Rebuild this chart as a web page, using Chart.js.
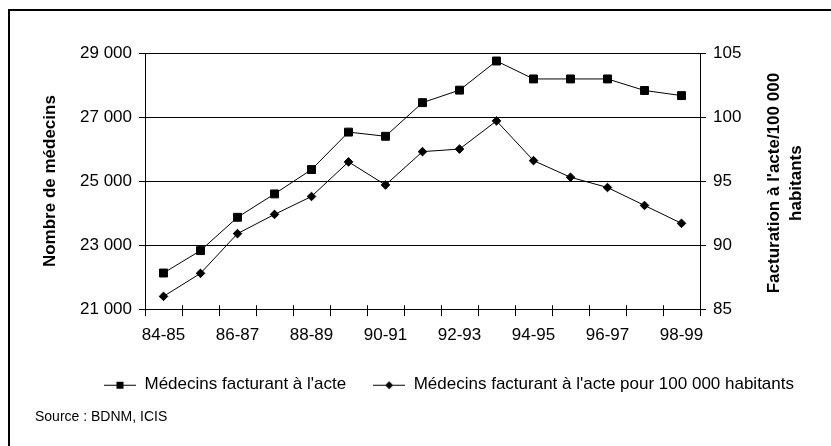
<!DOCTYPE html>
<html>
<head>
<meta charset="utf-8">
<script src="https://cdn.jsdelivr.net/npm/chart.js@4/dist/chart.umd.min.js"></script>
<style>
  html, body { margin: 0; padding: 0; background: #fff; overflow: hidden; }
  #wrap { position: relative; width: 831px; height: 446px; }
  #frame { position: absolute; left: 8px; top: 9px; width: 900px; height: 500px;
           border-left: 2px solid #000; border-top: 2px solid #000; pointer-events: none; }
  canvas { position: absolute; left: 0; top: 0; }
</style>
</head>
<body>
<div id="wrap">
  <canvas id="chart" width="831" height="446"></canvas>
  <div id="frame"></div>
</div>
<script>
// Fiscal years
const years = ['84-85', '85-86', '86-87', '87-88', '88-89', '89-90', '90-91', '91-92',
               '92-93', '93-94', '94-95', '95-96', '96-97', '97-98', '98-99'];
// Fee-for-service physicians (left axis)
const medecins = [22130, 22830, 23870, 24600, 25360, 26530, 26400, 27450,
                  27840, 28750, 28190, 28190, 28190, 27830, 27670];
// Fee-for-service physicians per 100 000 inhabitants (right axis)
const parHabitants = [86.0, 87.8, 90.9, 92.4, 93.8, 96.5, 94.7, 97.3,
                      97.5, 99.7, 96.6, 95.3, 94.5, 93.1, 91.7];
const leftTicks = [21000, 23000, 25000, 27000, 29000];
const rightTicks = [85, 90, 95, 100, 105];
const seriesLabels = ["Médecins facturant à l'acte",
                      "Médecins facturant à l'acte pour 100 000 habitants"];
const leftTitle = 'Nombre de médecins';
const rightTitleLines = ["Facturation à l'acte/100 000", 'habitants'];
const sourceText = 'Source : BDNM, ICIS';

const FONT = '"Liberation Sans", Arial, Helvetica, sans-serif';
Chart.defaults.font.family = FONT;
Chart.defaults.color = '#000';

const fmtThousands = v => String(v).replace(/\B(?=(\d{3})+(?!\d))/g, ' ');

// Legend swatches: a short line with the series marker in the middle
function legendIcon(kind) {
  const c = document.createElement('canvas');
  c.width = 32; c.height = 12;
  const g = c.getContext('2d');
  g.strokeStyle = '#000'; g.lineWidth = 1;
  g.beginPath(); g.moveTo(0, 6.5); g.lineTo(32, 6.5); g.stroke();
  g.fillStyle = '#000';
  if (kind === 'square') {
    g.fillRect(12.5, 3, 7, 7);
  } else {
    g.beginPath();
    g.moveTo(16, 2.5); g.lineTo(20, 6.5); g.lineTo(16, 10.5); g.lineTo(12, 6.5);
    g.closePath(); g.fill();
  }
  return c;
}
const legendIcons = [legendIcon('square'), legendIcon('diamond')];

// Nudges the legend block sideways after layout
const legendShift = {
  id: 'legendShift',
  afterLayout(chart) {
    const l = chart.legend;
    if (l) { l.left += 16; l.right += 16; }
  }
};

// Category tick marks cross the x axis: add the short part above the line
const crossTicks = {
  id: 'crossTicks',
  afterDraw(chart) {
    const sx = chart.scales.x, ctx = chart.ctx;
    const n = chart.data.labels.length;
    const half = (sx.getPixelForValue(1) - sx.getPixelForValue(0)) / 2;
    const y = chart.chartArea.bottom;
    ctx.save();
    ctx.strokeStyle = '#000';
    ctx.lineWidth = 1;
    ctx.beginPath();
    for (let i = 0; i <= n; i++) {
      const x = Math.round(sx.getPixelForValue(Math.min(i, n - 1)) + (i < n ? -half : half)) + 0.5;
      ctx.moveTo(x, y - 4);
      ctx.lineTo(x, y);
    }
    ctx.stroke();
    ctx.restore();
  }
};

// Right-hand axis title, read bottom to top
const rightTitle = {
  id: 'rightTitle',
  afterDraw(chart) {
    const a = chart.chartArea, ctx = chart.ctx;
    ctx.save();
    ctx.font = 'bold 17px ' + FONT;
    ctx.fillStyle = '#000';
    ctx.textAlign = 'center';
    ctx.textBaseline = 'middle';
    ctx.translate(a.right + 74, (a.top + a.bottom) / 2 + 2);
    ctx.rotate(-Math.PI / 2);
    rightTitleLines.forEach((t, i) => ctx.fillText(t, 0, i * 22));
    ctx.restore();
  }
};

new Chart(document.getElementById('chart'), {
  type: 'line',
  data: {
    labels: years,
    datasets: [
      {
        label: seriesLabels[0],
        data: medecins,
        yAxisID: 'y',
        borderColor: '#000',
        borderWidth: 1,
        pointStyle: 'rect',
        pointRadius: 5.6,
        pointBackgroundColor: '#000',
        pointBorderColor: '#000',
        pointBorderWidth: 1,
        tension: 0
      },
      {
        label: seriesLabels[1],
        data: parHabitants,
        yAxisID: 'y1',
        borderColor: '#000',
        borderWidth: 1,
        pointStyle: 'rectRot',
        pointRadius: 4.3,
        pointBackgroundColor: '#000',
        pointBorderColor: '#000',
        pointBorderWidth: 1,
        tension: 0
      }
    ]
  },
  options: {
    responsive: false,
    animation: false,
    events: [],
    layout: { padding: { left: 35, top: 53, right: 0, bottom: 0 } },
    scales: {
      x: {
        type: 'category',
        offset: true,
        grid: { offset: true, drawOnChartArea: false, drawTicks: true, tickLength: 7, color: '#000', lineWidth: 1 },
        border: { color: '#000', width: 1 },
        ticks: {
          autoSkip: false, maxRotation: 0, padding: 9,
          font: { size: 17 },
          callback: (v, i) => (i % 2 === 0 ? years[i] : '')
        },
        afterFit: s => { s.height = 40; }
      },
      y: {
        position: 'left',
        min: leftTicks[0],
        max: leftTicks[leftTicks.length - 1],
        afterBuildTicks: s => { s.ticks = leftTicks.map(v => ({ value: v })); },
        grid: { color: '#000', lineWidth: 1, tickLength: 6 },
        border: { color: '#000', width: 1 },
        ticks: { padding: 7, font: { size: 17 }, callback: v => fmtThousands(v) },
        title: { display: true, text: leftTitle, font: { size: 17, weight: 'bold' }, padding: { top: 5, bottom: 0 } },
        afterFit: s => { s.width = 110; }
      },
      y1: {
        position: 'right',
        min: rightTicks[0],
        max: rightTicks[rightTicks.length - 1],
        afterBuildTicks: s => { s.ticks = rightTicks.map(v => ({ value: v })); },
        grid: { drawOnChartArea: false, color: '#000', lineWidth: 1, tickLength: 6 },
        border: { color: '#000', width: 1 },
        ticks: { padding: 7, font: { size: 17 }, callback: v => String(v) },
        afterFit: s => { s.width = 131; }
      }
    },
    plugins: {
      legend: {
        position: 'bottom',
        labels: {
          usePointStyle: true,
          pointStyleWidth: 32,
          padding: 27,
          font: { size: 17 },
          color: '#000',
          generateLabels: chart => chart.data.datasets.map((ds, i) => ({
            text: ds.label,
            pointStyle: legendIcons[i],
            datasetIndex: i,
            hidden: false,
            lineWidth: 0,
            fillStyle: 'rgba(0,0,0,0)',
            strokeStyle: 'rgba(0,0,0,0)',
            fontColor: '#000'
          }))
        }
      },
      subtitle: {
        display: true,
        position: 'bottom',
        align: 'start',
        text: sourceText,
        color: '#000',
        font: { size: 14, weight: 'normal' },
        padding: { top: 6, bottom: 20 }
      },
      title: { display: false },
      tooltip: { enabled: false }
    }
  },
  plugins: [legendShift, crossTicks, rightTitle]
});
</script>
</body>
</html>
